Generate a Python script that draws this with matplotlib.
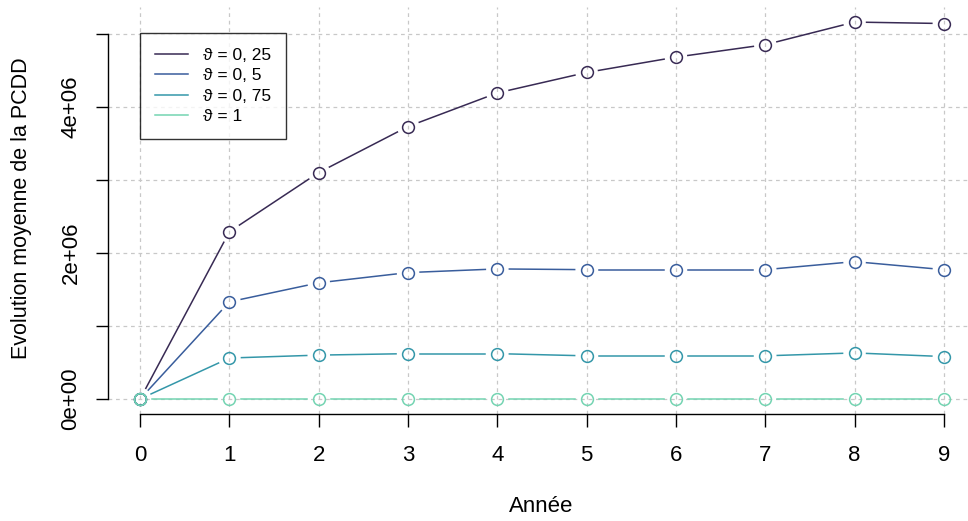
import numpy as np
import matplotlib
matplotlib.use('Agg')
import matplotlib.pyplot as plt

plt.rcParams['font.family'] = ['Liberation Sans', 'DejaVu Sans']

annees = [0, 1, 2, 3, 4, 5, 6, 7, 8, 9]
theta_labels = ['ϑ = 0, 25', 'ϑ = 0, 5', 'ϑ = 0, 75', 'ϑ = 1']
pcdd_025 = [0.0, 2.29e6, 3.10e6, 3.73e6, 4.19e6, 4.47e6, 4.68e6, 4.85e6, 5.16e6, 5.14e6]
pcdd_05 = [0.0, 1.33e6, 1.59e6, 1.73e6, 1.78e6, 1.77e6, 1.77e6, 1.77e6, 1.88e6, 1.77e6]
pcdd_075 = [0.0, 0.56e6, 0.60e6, 0.62e6, 0.62e6, 0.59e6, 0.59e6, 0.59e6, 0.63e6, 0.58e6]
pcdd_1 = [0.0, 0.0, 0.0, 0.0, 0.0, 0.0, 0.0, 0.0, 0.0, 0.0]
series = [pcdd_025, pcdd_05, pcdd_075, pcdd_1]
colors = ['#382A54', '#395D9C', '#3497A9', '#74D4B2']

W, H = 968, 521
fig = plt.figure(figsize=(W / 100, H / 100), dpi=100)
# plot region in pixels (R style, right side runs past the image)
left, right, top, bottom = 108, 976, 7, 414
ax = fig.add_axes([left / W, 1 - bottom / H, (right - left) / W, (bottom - top) / H])

ymax = max(max(s) for s in series)
ypad = 0.04 * ymax
ax.set_xlim(-0.04 * 9, 9 + 0.04 * 9)
ax.set_ylim(-ypad, ymax + ypad)
ax.autoscale(False)

for s in ['top', 'right', 'left', 'bottom']:
    ax.spines[s].set_visible(False)

ax.set_xticks(annees)
yt = np.arange(0, 5.01e6, 1e6)
ax.set_yticks(yt)
ax.set_yticklabels(['0e+00', '', '2e+06', '', '4e+06', ''], rotation=90, va='center')
ax.tick_params(axis='both', length=9, width=1, labelsize=16, direction='out')
ax.tick_params(axis='x', pad=13)
ax.tick_params(axis='y', pad=10)
ax.grid(True, color='#c8c8c8', linestyle=(0, (3, 3)), linewidth=0.9)
ax.set_axisbelow(True)

# R style axis lines from first to last tick
ax.plot([0, 9], [-ypad, -ypad], color='black', lw=1, clip_on=False)
ax.plot([-0.36, -0.36], [0, 5e6], color='black', lw=1, clip_on=False)

# type = "b": lines with gaps around the points
gap = 12
tr = ax.transData
for vals, c, lab in zip(series, colors, theta_labels):
    pts = tr.transform(np.column_stack([annees, vals]))
    for p0, p1 in zip(pts[:-1], pts[1:]):
        d = p1 - p0
        L = np.hypot(*d)
        if L <= 2 * gap:
            continue
        u = d / L
        a = tr.inverted().transform([p0 + u * gap, p1 - u * gap])
        ax.plot(a[:, 0], a[:, 1], color=c, lw=1.1)
    ax.plot(annees, vals, 'o', ms=8.5, mfc='none', mec=c, mew=1.1)
    ax.plot([], [], color=c, lw=1.1, label=lab)

leg = ax.legend(loc='upper left', bbox_to_anchor=((140 - left) / (right - left), 1 - (33 - top) / (bottom - top)),
                fontsize=12.5, frameon=True, fancybox=False, edgecolor='black',
                borderpad=0.85, handlelength=1.9, handletextpad=0.9, labelspacing=0.3,
                borderaxespad=0)
leg.get_frame().set_linewidth(1)

fig.text(541 / W, 1 - 506 / H, 'Année', ha='center', va='center', fontsize=16)
fig.text(22 / W, 1 - 208 / H, 'Evolution moyenne de la PCDD', ha='center', va='center',
         rotation=90, fontsize=15.5)

fig.savefig('out.png', dpi=100)
